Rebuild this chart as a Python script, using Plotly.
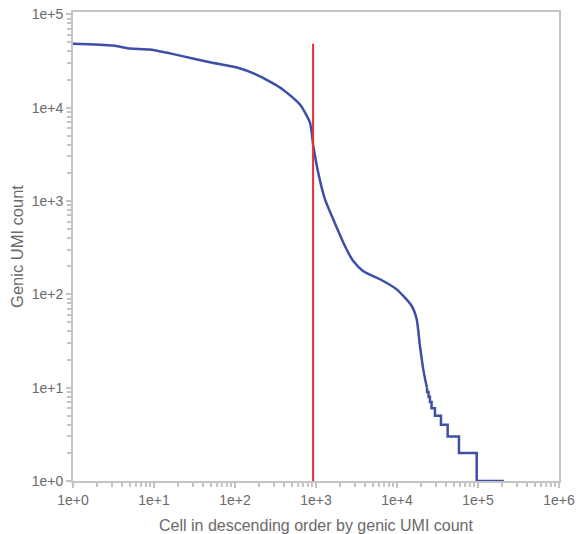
import plotly.graph_objects as go

# Barcode rank curve (cell rank vs genic UMI count)
# smooth part of the curve
smooth_rank = [1, 3.1, 5.1, 8.9, 21, 49, 106, 204, 392, 634, 843, 927, 1067, 1292,
               1700, 2280, 2885, 3840, 6170, 9910, 15200, 17500, 19200, 21100, 23200, 23500]
smooth_umi = [48500, 46300, 43000, 41900, 36100, 30600, 26900, 21700, 15600, 10800,
              6900, 3860, 2000, 1040, 585, 328, 227, 177, 145, 113, 75, 54, 28, 15.7, 10.4, 10]

# integer-count tail: each level's value and the rank where it ends
step_level = [10, 9, 8, 7, 6, 5, 4, 3, 2, 1]
step_end_rank = [23500, 24500, 25500, 26700, 29400, 34900, 42200, 58200, 96400, 209000]

# Cutoff marker
cutoff_rank = 920
cutoff_umi = [1, 48500]

x_tick_vals = [1, 10, 100, 1000, 10000, 100000, 1000000]
x_tick_text = ["1e+0", "1e+1", "1e+2", "1e+3", "1e+4", "1e+5", "1e+6"]
y_tick_vals = [1, 10, 100, 1000, 10000, 100000]
y_tick_text = ["1e+0", "1e+1", "1e+2", "1e+3", "1e+4", "1e+5"]

x_minor = [d * 10 ** k for k in range(6) for d in range(2, 10)]
y_minor = [d * 10 ** k for k in range(5) for d in range(2, 10)]

# build step polyline from the tail arrays
tail_x, tail_y = [], []
for i, (lvl, end) in enumerate(zip(step_level, step_end_rank)):
    start = step_end_rank[i - 1] if i > 0 else smooth_rank[-1]
    tail_x += [start, end]
    tail_y += [lvl, lvl]

axis_gray = "#c4c4c4"
text_gray = "#6a6a6a"
font_family = "Liberation Sans, Arial, sans-serif"
blue = "#3d4fa6"

fig = go.Figure()
fig.add_trace(go.Scatter(x=smooth_rank, y=smooth_umi, mode="lines",
                         line=dict(color=blue, width=2.5, shape="spline", smoothing=0.6),
                         showlegend=False, hoverinfo="skip"))
fig.add_trace(go.Scatter(x=tail_x, y=tail_y, mode="lines",
                         line=dict(color=blue, width=2.5), showlegend=False,
                         hoverinfo="skip"))
fig.add_trace(go.Scatter(x=[cutoff_rank, cutoff_rank], y=cutoff_umi, mode="lines",
                         line=dict(color="#ec2f35", width=2), showlegend=False,
                         hoverinfo="skip"))

common = dict(type="log", showgrid=False, zeroline=False, showline=True,
              linecolor=axis_gray, linewidth=2, mirror=True, ticks="outside",
              ticklen=5, tickwidth=2, tickcolor=axis_gray, automargin=False,
              tickfont=dict(family=font_family, size=14, color=text_gray))

fig.update_xaxes(range=[0, 6], tickvals=x_tick_vals, ticktext=x_tick_text,
                 minor=dict(tickvals=x_minor, ticks="outside", ticklen=4,
                            tickwidth=1.5, tickcolor=axis_gray, showgrid=False),
                 title=dict(text="Cell in descending order by genic UMI count",
                            font=dict(family=font_family, size=16, color=text_gray),
                            standoff=16),
                 **common)
fig.update_yaxes(range=[0, 5.025], tickvals=y_tick_vals, ticktext=y_tick_text,
                 minor=dict(tickvals=y_minor, ticks="outside", ticklen=4,
                            tickwidth=1.5, tickcolor=axis_gray, showgrid=False),
                 title=dict(text="Genic UMI count",
                            font=dict(family=font_family, size=16.5, color=text_gray),
                            standoff=4),
                 **common)

fig.update_layout(width=578, height=534, margin=dict(l=73, r=19, t=12, b=53),
                  paper_bgcolor="white", plot_bgcolor="white")

fig.write_html("out.html")
